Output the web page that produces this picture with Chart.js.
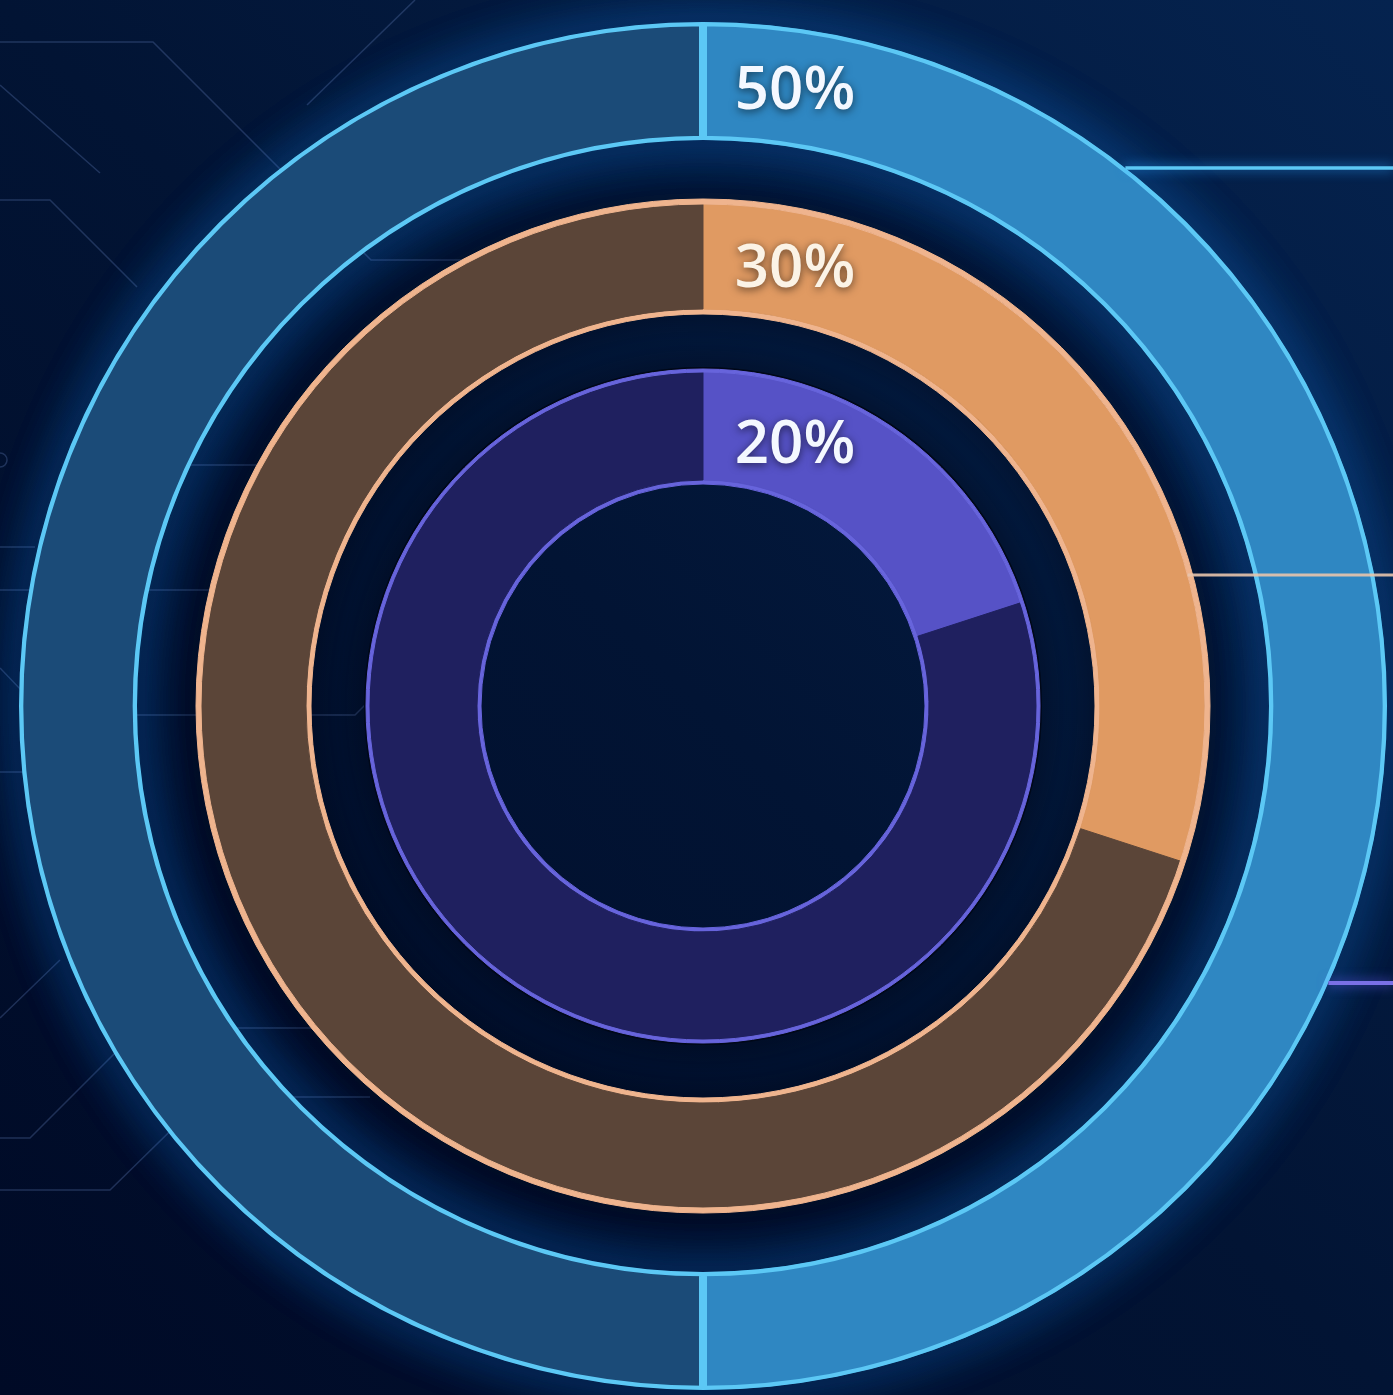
<!DOCTYPE html>
<html>
<head>
<meta charset="utf-8">
<title>Rings</title>
<script src="https://cdn.jsdelivr.net/npm/chart.js@4.4.1/dist/chart.umd.min.js"></script>
<style>
  html, body { margin: 0; padding: 0; background: #021232; overflow: hidden; }
  #wrap { position: relative; width: 1393px; height: 1395px; }
</style>
</head>
<body>
<div id="wrap"><canvas id="ringChart"></canvas></div>
<script>
// values
const ringLabels = ['Blue', 'Orange', 'Purple'];
const ringShares = [50, 30, 20];

const ringColors = ['#2f87c2', '#e09a62', '#5652c6'];
const ringRestColors = ['#1b4b78', '#5b4538', '#1f205f'];
const lineColors = ['#5cc8f5', '#efb48e', '#6764dc'];

// faint circuit traces on the left of the background
const circuitPaths = [
  [[0, 42], [153, 42], [371, 260], [630, 260]],
  [[0, 85], [100, 173]],
  [[0, 200], [50, 200], [137, 287]],
  [[415, 0], [307, 105]],
  [[60, 520], [115, 465], [330, 465]],
  [[0, 547], [35, 547]],
  [[0, 590], [330, 590]],
  [[0, 668], [45, 715], [355, 715], [365, 705]],
  [[0, 772], [55, 772]],
  [[60, 960], [0, 1018]],
  [[0, 1138], [30, 1138], [140, 1028], [350, 1028]],
  [[0, 1190], [110, 1190], [205, 1097], [370, 1097]]
];
const circuitNodes = [[638, 262], [338, 465], [0, 460]];

const ctx = document.getElementById('ringChart').getContext('2d');

function ringData(i) {
  return [ringShares[i], 100 - ringShares[i]];
}

// thin full circle, 1px self-coloured border hides the seams
function ringLine(color, weight) {
  return { data: [1], backgroundColor: color, borderColor: color, borderWidth: 1, weight: weight };
}

function spacer(weight) {
  return { data: [1], backgroundColor: 'rgba(0,0,0,0)', borderWidth: 0, weight: weight };
}

const datasets = [
  {
    label: ringLabels[0],
    data: ringData(0),
    backgroundColor: [ringColors[0], ringRestColors[0]],
    borderColor: lineColors[0],
    borderWidth: 4,
    borderAlign: 'inner',
    weight: 118
  },
  spacer(59),
  ringLine(lineColors[1], 5),
  {
    label: ringLabels[1],
    data: ringData(1),
    backgroundColor: [ringColors[1], ringRestColors[1]],
    borderColor: [ringColors[1], ringRestColors[1]],
    borderWidth: 1,
    weight: 105
  },
  ringLine(lineColors[1], 5),
  spacer(55),
  ringLine(lineColors[2], 3),
  {
    label: ringLabels[2],
    data: ringData(2),
    backgroundColor: [ringColors[2], ringRestColors[2]],
    borderColor: [ringColors[2], ringRestColors[2]],
    borderWidth: 1,
    weight: 108
  },
  ringLine(lineColors[2], 4)
];
const ringIndex = [0, 3, 7];

function circle(c, x, y, r) {
  c.beginPath();
  c.arc(x, y, r, 0, Math.PI * 2);
}

const backgroundPlugin = {
  id: 'background',
  beforeDraw(chart) {
    const c = chart.ctx;
    const w = chart.width, h = chart.height;
    c.save();
    const g = c.createLinearGradient(0, h, w, 0);
    g.addColorStop(0, '#000a26');
    g.addColorStop(0.5, '#021434');
    g.addColorStop(1, '#05234f');
    c.fillStyle = g;
    c.fillRect(0, 0, w, h);

    c.strokeStyle = 'rgba(95,125,185,0.32)';
    c.lineWidth = 1.5;
    circuitPaths.forEach(path => {
      c.beginPath();
      path.forEach((p, k) => k === 0 ? c.moveTo(p[0], p[1]) : c.lineTo(p[0], p[1]));
      c.stroke();
    });
    circuitNodes.forEach(n => {
      circle(c, n[0], n[1], 7);
      c.stroke();
    });
    c.restore();
  }
};

// glow round the blue ring, dark halos round the others
const glowPlugin = {
  id: 'glow',
  beforeDatasetsDraw(chart) {
    const c = chart.ctx;
    const blue = chart.getDatasetMeta(ringIndex[0]).data[0];
    const orange = chart.getDatasetMeta(ringIndex[1]).data[0];
    const purple = chart.getDatasetMeta(ringIndex[2]).data[0];
    const x = blue.x, y = blue.y;
    c.save();

    c.strokeStyle = '#000818';
    c.shadowColor = 'rgba(0,0,8,0.95)';
    c.shadowBlur = 30;
    c.lineWidth = 8;
    [orange.outerRadius + 1, orange.innerRadius - 1, purple.outerRadius + 1].forEach(r => {
      circle(c, x, y, r);
      c.stroke();
    });

    // strokes sit under the ring edge so only the glow shows
    c.strokeStyle = 'rgba(70,180,255,0.9)';
    c.shadowColor = 'rgba(25,140,255,0.95)';
    c.shadowBlur = 45;
    c.lineWidth = 6;
    for (let k = 0; k < 2; k++) {
      [blue.outerRadius - 4, blue.innerRadius + 4].forEach(r => {
        circle(c, x, y, r);
        c.stroke();
      });
    }
    c.restore();
  },
  afterDatasetsDraw(chart) {
    const c = chart.ctx;
    const blue = chart.getDatasetMeta(ringIndex[0]).data[0];
    const orange = chart.getDatasetMeta(ringIndex[1]).data[0];
    const x = blue.x, y = blue.y;
    const w = chart.width;

    // connector lines running off to the right
    const connectors = [
      { dy: -538, r: blue.outerRadius, color: lineColors[0], glow: 'rgba(40,160,255,0.9)', width: 3.5 },
      { dy: -131, r: orange.outerRadius, color: 'rgba(232,196,172,0.9)', glow: 'rgba(0,0,0,0)', width: 3 },
      { dy: 277, r: blue.outerRadius, color: '#7a70e6', glow: 'rgba(110,100,255,0.8)', width: 4 }
    ];
    c.save();
    connectors.forEach(l => {
      const x0 = x + Math.sqrt(l.r * l.r - l.dy * l.dy);
      c.strokeStyle = l.color;
      c.lineWidth = l.width;
      c.shadowColor = l.glow;
      c.shadowBlur = 12;
      c.beginPath();
      c.moveTo(x0, y + l.dy);
      c.lineTo(w, y + l.dy);
      c.stroke();
    });
    c.restore();

    // percent labels near the start of each ring
    c.save();
    c.font = '600 60px "Open Sans", sans-serif';
    c.textAlign = 'center';
    c.textBaseline = 'alphabetic';
    c.shadowColor = 'rgba(0,0,0,0.6)';
    c.shadowBlur = 8;
    c.shadowOffsetY = 2;
    ringIndex.forEach((di, k) => {
      const arc = chart.getDatasetMeta(di).data[0];
      const mid = (arc.innerRadius + arc.outerRadius) / 2;
      const tx = arc.x + 92;
      const ty = arc.y - Math.sqrt(mid * mid - 92 * 92);
      c.fillStyle = k === 1 ? '#fbf3e6' : '#f4f8ff';
      c.fillText(ringShares[k] + '%', tx, ty + 21);
    });
    c.restore();
  }
};

const ringChart = new Chart(ctx, {
  type: 'doughnut',
  data: {
    labels: ['share', 'rest'],
    datasets: datasets
  },
  options: {
    responsive: true,
    maintainAspectRatio: false,
    animation: false,
    events: [],
    cutout: 222,
    layout: { padding: { left: 19, right: 6, top: 22, bottom: 5 } },
    plugins: {
      legend: { display: false },
      tooltip: { enabled: false }
    }
  },
  plugins: [backgroundPlugin, glowPlugin]
});
</script>
</body>
</html>
